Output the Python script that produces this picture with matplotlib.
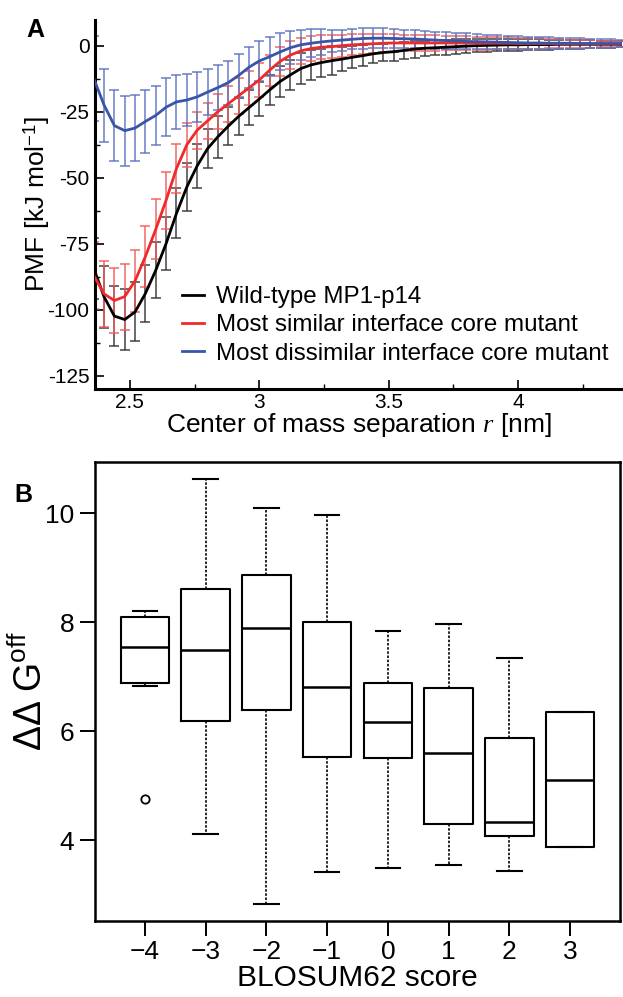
import numpy as np
import matplotlib
matplotlib.use("Agg")
import matplotlib.pyplot as plt
from matplotlib.ticker import MultipleLocator

plt.rcParams['font.family'] = ['Liberation Sans', 'DejaVu Sans']
plt.rcParams['mathtext.fontset'] = 'custom'
plt.rcParams['mathtext.rm'] = 'Liberation Sans'
plt.rcParams['mathtext.it'] = 'Liberation Serif:italic'

# ---------------- Panel A data ----------------
r_nm = [2.36, 2.40, 2.44, 2.48, 2.52, 2.56, 2.60, 2.64, 2.68, 2.72, 2.76, 2.80, 2.84,
        2.88, 2.92, 2.96, 3.00, 3.04, 3.08, 3.12, 3.16, 3.20, 3.24, 3.28, 3.32, 3.36,
        3.40, 3.44, 3.48, 3.52, 3.56, 3.60, 3.64, 3.68, 3.72, 3.76, 3.80, 3.84, 3.88,
        3.92, 3.96, 4.00, 4.04, 4.08, 4.12, 4.16, 4.20, 4.24, 4.28, 4.32, 4.36, 4.40]
pmf_wt = [-84.3, -95.1, -102.4, -103.7, -100.8, -93.8, -85.0, -74.9, -63.5, -53.5, -45.5,
          -39.0, -34.5, -30.5, -26.8, -23.5, -20.2, -16.8, -13.6, -11.1, -8.7, -7.3, -6.4,
          -5.7, -5.1, -4.4, -3.8, -3.1, -2.6, -2.3, -1.8, -1.3, -1.0, -0.8, -0.6, -0.4,
          -0.2, 0.0, 0.1, 0.2, 0.3, 0.3, 0.4, 0.4, 0.4, 0.5, 0.5, 0.5, 0.5, 0.5, 0.5, 0.5]
err_wt = [11.5, 11.7, 11.5, 11.4, 11.2, 10.7, 10.6, 10.1, 9.5, 9.0, 8.4, 7.5, 7.9, 7.1, 7.0,
          6.6, 6.3, 5.8, 6.0, 5.7, 6.0, 5.7, 5.3, 5.4, 4.6, 4.2, 3.9, 3.6, 3.4, 3.4, 3.3,
          3.2, 2.9, 2.8, 2.9, 2.8, 2.7, 2.6, 2.5, 2.4, 2.3, 2.2, 2.1, 2.0, 1.9, 1.8, 1.7,
          1.6, 1.5, 1.4, 1.3, 1.2]
pmf_sim = [-87.0, -94.0, -96.5, -95.0, -89.0, -79.8, -69.5, -58.5, -46.5, -37.5, -32.0,
           -28.5, -25.0, -22.0, -19.0, -16.0, -13.0, -9.3, -6.0, -3.6, -2.0, -1.1, -0.6,
           -0.4, 0.0, 0.3, 0.5, 0.7, 0.9, 1.0, 1.0, 1.0, 1.0, 1.0, 1.0, 1.0, 1.0, 0.9, 0.9,
           0.9, 0.9, 0.8, 0.8, 0.8, 0.8, 0.7, 0.7, 0.7, 0.6, 0.6, 0.6, 0.6]
err_sim = [12.7, 12.4, 12.4, 12.5, 11.8, 11.5, 11.3, 10.8, 9.3, 8.3, 7.0, 6.9, 6.7, 6.8,
           6.8, 6.5, 6.3, 5.8, 5.5, 5.2, 5.0, 4.8, 4.6, 4.4, 4.2, 4.0, 3.8, 3.6, 3.4, 3.3,
           3.2, 3.1, 3.0, 2.9, 2.8, 2.7, 2.6, 2.5, 2.4, 2.3, 2.2, 2.1, 2.0, 1.9, 1.8, 1.7,
           1.6, 1.5, 1.4, 1.3, 1.2, 1.1]
pmf_dis = [-12.4, -22.5, -30.3, -32.2, -31.2, -28.7, -26.4, -23.3, -21.3, -20.6, -19.4,
           -17.6, -15.9, -14.0, -11.3, -8.2, -5.8, -4.2, -2.4, -0.8, 0.3, 0.9, 1.4, 1.8,
           2.1, 2.4, 2.7, 2.8, 2.8, 2.7, 2.6, 2.5, 2.3, 2.1, 1.9, 1.8, 1.6, 1.5, 1.4, 1.3,
           1.2, 1.1, 1.0, 1.0, 0.9, 0.9, 0.9, 0.8, 0.8, 0.8, 0.8, 0.8]
err_dis = [16.0, 13.8, 13.4, 13.3, 12.6, 12.0, 11.3, 10.9, 10.2, 10.0, 9.4, 8.7, 8.4, 8.3,
           8.1, 7.7, 7.6, 7.4, 7.0, 6.3, 5.6, 5.3, 4.8, 4.2, 4.0, 3.8, 3.8, 3.8, 3.7, 3.6,
           3.5, 3.4, 3.2, 3.2, 3.2, 3.1, 3.0, 2.9, 2.8, 2.7, 2.6, 2.5, 2.4, 2.3, 2.2, 2.1,
           2.0, 1.9, 1.8, 1.7, 1.6, 1.5]
labels_a = ["Wild-type MP1-p14", "Most similar interface core mutant",
            "Most dissimilar interface core mutant"]
yticks_a = [0, -25, -50, -75, -100, -125]
yticklabels_a = ["0", "-25", "-50", "-75", "-100", "-125"]
xticks_a = [2.5, 3, 3.5, 4]
xticklabels_a = ["2.5", "3", "3.5", "4"]

# ---------------- Panel B data ----------------
blosum = ["\u22124", "\u22123", "\u22122", "\u22121", "0", "1", "2", "3"]
whislo = [6.83, 4.11, 2.83, 3.41, 3.49, 3.55, 3.43, 3.88]
q1     = [6.88, 6.18, 6.38, 5.52, 5.51, 4.30, 4.07, 3.88]
med    = [7.55, 7.48, 7.89, 6.81, 6.17, 5.60, 4.33, 5.11]
q3     = [8.10, 8.61, 8.86, 8.01, 6.89, 6.79, 5.87, 6.36]
whishi = [8.21, 10.63, 10.09, 9.97, 7.84, 7.96, 7.35, 6.36]
fliers = [[4.75], [], [], [], [], [], [], []]

fig = plt.figure(figsize=(6.23, 9.97), dpi=100)

# ---------- Panel A ----------
axA = fig.add_axes([95/623, 1-389/997, (622-95)/623, (389-20)/997])
cols = ["black", "#ee2b2b", "#3a55a8"]
ecols = ["#333333", "#f05a5a", "#5a74c0"]
for y, e, c, ec, lab in zip([pmf_wt, pmf_sim, pmf_dis], [err_wt, err_sim, err_dis],
                            cols, ecols, labels_a):
    axA.errorbar(r_nm, y, yerr=e, fmt='none', ecolor=ec, elinewidth=1.2,
                 capsize=3.5, capthick=1.2, alpha=0.85, zorder=2)
for y, c, lab in zip([pmf_wt, pmf_sim, pmf_dis], cols, labels_a):
    axA.plot(r_nm, y, color=c, lw=2.0, label=lab, zorder=3)

axA.set_xlim(2.365, 4.402)
axA.set_ylim(-130, 9.7)
axA.spines['top'].set_visible(False)
axA.spines['right'].set_visible(False)
axA.spines['left'].set_linewidth(2.2)
axA.spines['bottom'].set_linewidth(2.2)
axA.set_yticks(yticks_a)
axA.set_yticklabels(yticklabels_a)
axA.set_xticks(xticks_a)
axA.set_xticklabels(xticklabels_a)
axA.yaxis.set_minor_locator(MultipleLocator(12.5))
axA.xaxis.set_minor_locator(MultipleLocator(0.25))
axA.tick_params(which='major', length=6.5, width=1.2, labelsize=15, direction='in', pad=4)
axA.tick_params(which='minor', length=3.6, width=1.0, direction='in')
axA.tick_params(axis='x', pad=3)
axA.set_xlabel(r"Center of mass separation $\mathit{r}$ [nm]", fontsize=19, labelpad=-1)
axA.set_ylabel(r"PMF [kJ mol$^{\mathregular{-1}}$]", fontsize=19, labelpad=-3)
leg = axA.legend(loc='upper left', bbox_to_anchor=(0.165, 0.278), frameon=False,
                 fontsize=17.4, handlelength=0.9, handletextpad=0.5, labelspacing=0.25,
                 borderpad=0, borderaxespad=0)
fig.text(35/623, 1-30/997, "A", fontsize=18, fontweight='bold', ha='center', va='center')

# ---------- Panel B ----------
axB = fig.add_axes([95/623, 1-920.7/997, (620-95)/623, (920.7-462)/997])
stats = []
for i in range(len(blosum)):
    stats.append(dict(whislo=whislo[i], q1=q1[i], med=med[i], q3=q3[i],
                      whishi=whishi[i], fliers=fliers[i], label=blosum[i]))
axB.bxp(stats, positions=list(range(1, len(blosum) + 1)), widths=0.8,
        showfliers=True,
        boxprops=dict(color='black', lw=1.5),
        medianprops=dict(color='black', lw=1.8),
        whiskerprops=dict(color='black', lw=1.2, linestyle=(0, (1.5, 1.0))),
        capprops=dict(color='black', lw=1.5),
        flierprops=dict(marker='o', markerfacecolor='none', markeredgecolor='black',
                        markersize=6, markeredgewidth=1.3),
        capwidths=0.4)
axB.set_xlim(0.18, 8.82)
axB.set_ylim(2.52, 10.94)
for s in axB.spines.values():
    s.set_linewidth(1.8)
axB.set_yticks([4, 6, 8, 10])
axB.set_yticklabels(["4", "6", "8", "10"])
axB.tick_params(axis='both', length=11, width=1.4, labelsize=19, direction='out')
axB.tick_params(axis='x', pad=3)
axB.tick_params(axis='y', pad=4)
axB.set_xlabel("BLOSUM62 score", fontsize=21.5, labelpad=0)
axB.set_ylabel(r"$\mathregular{\Delta\Delta\ G^{off}}$", fontsize=27, labelpad=-4)
fig.text(23/623, 1-495/997, "B", fontsize=18, fontweight='bold', ha='center', va='center')

fig.savefig("out.png", dpi=100)
